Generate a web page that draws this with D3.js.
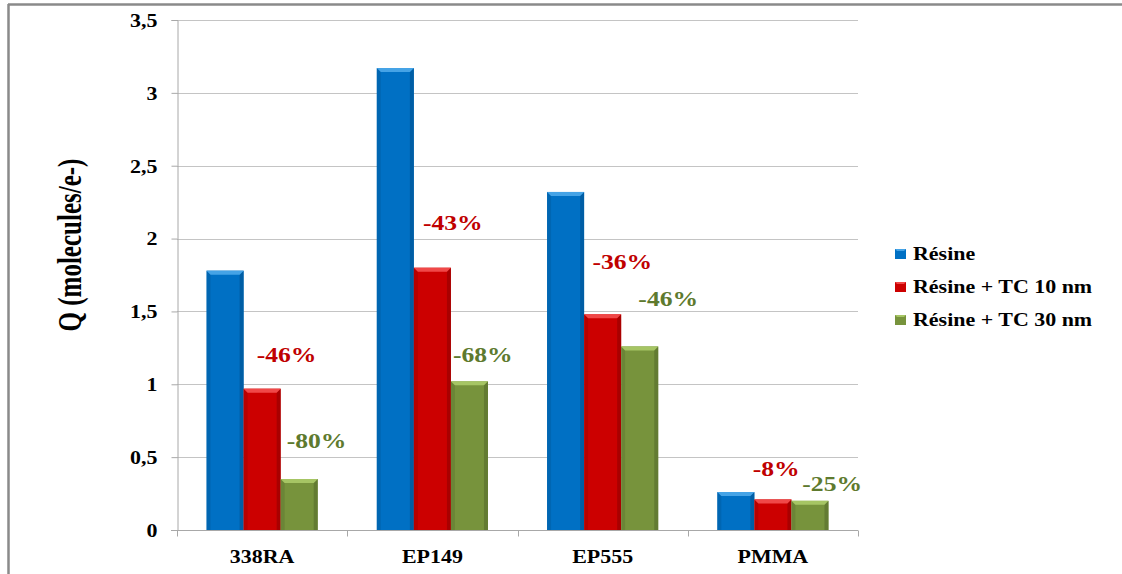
<!DOCTYPE html>
<html><head><meta charset="utf-8">
<script src="https://cdn.jsdelivr.net/npm/d3@7"></script>
<style>body{margin:0;background:#fff}svg{display:block}</style>
</head><body>
<script>
const categories = ["338RA", "EP149", "EP555", "PMMA"];
const seriesNames = ["Résine", "Résine + TC 10 nm", "Résine + TC 30 nm"];
const resine = [1.78, 3.17, 2.32, 0.26];
const resineTC10 = [0.97, 1.80, 1.48, 0.21];
const resineTC30 = [0.35, 1.02, 1.26, 0.20];
const yTicks = [0, 0.5, 1, 1.5, 2, 2.5, 3, 3.5];
const yTickLabels = ["0", "0,5", "1", "1,5", "2", "2,5", "3", "3,5"];
// percentage annotations: category, series index, text, anchor value (data units), anchor slot (bar-width units inside group)
const pctCategory = ["338RA", "338RA", "EP149", "EP149", "EP555", "EP555", "PMMA", "PMMA"];
const pctSeries = [1, 2, 1, 2, 1, 2, 1, 2];
const pctText = ["-46%", "-80%", "-43%", "-68%", "-36%", "-46%", "-8%", "-25%"];
const pctAnchor = [1.20, 0.61, 2.11, 1.20, 1.84, 1.59, 0.42, 0.32];
const pctSlot = [2.16, 2.97, 2.05, 2.86, 2.03, 3.27, 1.59, 3.10];

const W = 1122, H = 574, SX = 1.22;
const FONT = "'Liberation Serif', 'Times New Roman', Times, serif";
const colors = ["#0070C4", "#CC0000", "#77933C"];
const topColors = ["#45A3E6", "#F04848", "#A6C564"];
const edgeColors = ["#005A9E", "#A00000", "#5E7630"];
const labelColors = ["#C00000", "#5E7A2E"];

const svg = d3.select("body").append("svg").attr("width", W).attr("height", H)
  .attr("font-family", FONT).attr("font-weight", "bold");
// frame
svg.append("line").attr("x1", 8).attr("x2", W).attr("y1", 4.5).attr("y2", 4.5).attr("stroke", "#8a8a8a").attr("stroke-width", 2.5);
svg.append("line").attr("x1", 8.5).attr("x2", 8.5).attr("y1", 4).attr("y2", H).attr("stroke", "#8a8a8a").attr("stroke-width", 2.5);

const x0 = 177, x1 = 858, yTop = 20, yBot = 530;
const y = d3.scaleLinear().domain([0, 3.5]).range([yBot, yTop]);
const x = d3.scaleBand().domain(categories).range([x0, x1]).paddingInner(0).paddingOuter(0);
const groupFrac = 0.653;
const xs = d3.scaleBand().domain([0, 1, 2]).range([0, x.bandwidth() * groupFrac]);
const groupOffset = x.bandwidth() * (1 - groupFrac) / 2;

function txt(sel) {
  return sel.attr("font-family", FONT).attr("font-weight", "bold").attr("fill", "#000");
}

// gridlines
svg.append("g").selectAll("line").data(yTicks.filter(d => d > 0)).join("line")
  .attr("x1", x0).attr("x2", x1).attr("y1", d => Math.round(y(d)) + 0.5).attr("y2", d => Math.round(y(d)) + 0.5)
  .attr("stroke", "#C4C4C4").attr("stroke-width", 1);

// y axis
const yAxis = svg.append("g").attr("transform", `translate(${x0 + 0.5},0)`)
  .call(d3.axisLeft(y).tickValues(yTicks).tickSize(6).tickFormat(""));
yAxis.select(".domain").attr("stroke", "#A8A8A8");
yAxis.selectAll(".tick line").attr("stroke", "#A8A8A8");
yAxis.selectAll(".tick").each(function(d, i) {
  txt(d3.select(this).append("text")).attr("transform", `translate(-20,0) scale(${SX},1)`)
    .attr("text-anchor", "end").attr("dy", "0.35em")
    .attr("font-size", 18).text(yTickLabels[i]);
});

// x axis
const xAxis = svg.append("g").attr("transform", `translate(0,${yBot + 0.5})`);
xAxis.append("line").attr("x1", x0 - 6).attr("x2", x1).attr("stroke", "#A8A8A8");
xAxis.selectAll(".xt").data(categories.map(c => x(c)).concat([x1])).join("line")
  .attr("x1", d => Math.round(d) + 0.5).attr("x2", d => Math.round(d) + 0.5).attr("y1", 0).attr("y2", 6).attr("stroke", "#A8A8A8");
txt(xAxis.selectAll(".xl").data(categories).join("text"))
  .attr("transform", d => `translate(${x(d) + x.bandwidth() / 2},32) scale(${SX},1)`)
  .attr("text-anchor", "middle").attr("font-size", 18).text(d => d);

// bars
const seriesData = [resine, resineTC10, resineTC30];
seriesData.forEach((vals, s) => {
  const g = svg.append("g");
  categories.forEach((c, i) => {
    const bx = x(c) + groupOffset + xs(s), bw = xs.bandwidth();
    const by = y(vals[i]), bh = yBot - by;
    const b = Math.min(4, bh / 3);
    g.append("rect").attr("x", bx).attr("y", by).attr("width", bw).attr("height", bh).attr("fill", colors[s]);
    g.append("polygon").attr("points", [[bx, by], [bx + b, by + b], [bx + b, yBot], [bx, yBot]].join(" ")).attr("fill", edgeColors[s]).attr("opacity", 0.45);
    g.append("polygon").attr("points", [[bx + bw, by], [bx + bw - b, by + b], [bx + bw - b, yBot], [bx + bw, yBot]].join(" ")).attr("fill", edgeColors[s]).attr("opacity", 0.8);
    g.append("polygon").attr("points", [[bx, by], [bx + bw, by], [bx + bw - b, by + b], [bx + b, by + b]].join(" ")).attr("fill", topColors[s]);
  });
});

// percentage labels
txt(svg.append("g").selectAll("text").data(pctText).join("text"))
  .attr("transform", (d, i) => {
    const xc = x(pctCategory[i]) + groupOffset + pctSlot[i] * xs.bandwidth();
    return `translate(${xc},${y(pctAnchor[i])}) scale(${SX},1)`;
  })
  .attr("text-anchor", "middle").attr("dy", "0.35em").attr("font-size", 21)
  .attr("fill", (d, i) => labelColors[pctSeries[i] - 1])
  .text(d => d);

// y title
txt(svg.append("text")).attr("transform", `translate(81,245) scale(1.32,1) rotate(-90)`)
  .attr("text-anchor", "middle").attr("font-size", 25).text("Q (molecules/e-)");

// legend
const lg = svg.append("g").attr("transform", "translate(895,254)");
seriesNames.forEach((n, i) => {
  const r = lg.append("g").attr("transform", `translate(0,${i * 33})`);
  r.append("rect").attr("x", 0).attr("y", -5).attr("width", 11).attr("height", 10).attr("fill", colors[i]);
  r.append("polygon").attr("points", "0,-5 11,-5 9,-3 2,-3").attr("fill", topColors[i]);
  txt(r.append("text")).attr("transform", `translate(18,0) scale(${SX},1)`).attr("dy", "0.35em").attr("font-size", 18).text(n);
});
</script>
</body></html>
